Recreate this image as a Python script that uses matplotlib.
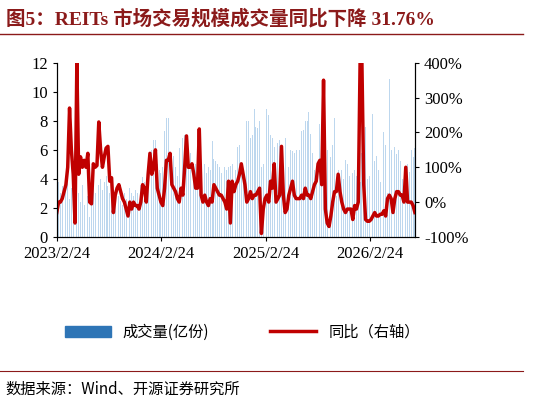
import matplotlib
matplotlib.use("Agg")
import matplotlib.pyplot as plt
import pandas as pd
from matplotlib.patches import Patch
from matplotlib.lines import Line2D

yoy = [-30,0,0,10,30,50,100,270,150,80,-60,400,80,130,100,120,100,140,0,-5,
       110,100,105,230,150,100,130,155,160,60,70,-30,20,40,50,30,10,0,-20,-40,
       0,-20,0,-10,-10,-20,0,50,40,0,80,140,80,100,150,40,20,0,-10,40,
       120,120,140,50,40,30,10,0,40,20,100,190,100,100,110,80,40,40,210,20,
       0,20,0,-10,10,0,50,40,30,20,20,10,0,-20,60,-60,60,30,50,60,
       80,110,80,50,0,10,30,10,20,20,30,40,-90,-20,10,20,0,60,40,110,
       0,10,20,160,20,-30,-20,20,40,60,20,10,10,10,20,10,40,20,20,10,
       30,50,60,110,120,50,350,-20,-60,-70,-40,0,30,30,80,30,0,-20,-30,-20,
       -20,-20,-50,-10,-20,0,400,400,50,-50,-55,-55,-50,-40,-30,-40,-40,-35,-35,-25,
       -40,10,20,10,-30,10,30,30,20,20,0,100,0,0,0,-10,-30]

volume = [2.5,3.8,3.0,3.5,2.8,3.2,3.8,2.6,3.4,4.0,1.8,2.5,3.0,2.4,3.6,2.2,3.0,2.8,1.4,2.6,
          3.4,3.0,2.8,3.6,4.0,3.2,3.8,4.2,3.5,3.0,2.6,2.4,3.0,3.3,2.8,2.5,2.2,3.0,2.6,2.4,
          3.4,3.0,2.8,3.2,3.0,2.6,3.6,4.1,3.8,3.4,5.0,6.8,6.0,6.7,6.7,5.0,4.6,4.4,4.8,7.3,
          8.2,8.2,6.0,5.0,5.6,4.8,4.2,6.1,5.6,6.8,7.0,6.0,5.5,5.8,5.2,4.6,5.0,6.0,5.5,4.6,
          4.8,5.0,4.4,4.8,4.6,6.6,5.4,5.2,5.0,4.8,4.4,4.2,4.8,4.6,4.8,4.9,5.0,4.4,4.6,6.2,
          6.3,4.8,4.6,5.2,8.0,8.0,6.8,7.0,8.8,7.6,7.5,8.0,4.8,5.0,10.3,8.8,8.4,7.0,6.8,6.2,
          6.9,6.5,6.7,5.5,4.8,6.8,5.0,4.8,6.0,5.9,5.8,6.0,6.1,6.0,7.3,7.4,8.0,8.0,8.6,7.1,
          5.8,4.6,4.4,6.3,7.8,7.3,6.6,7.1,6.0,5.0,5.5,6.3,8.2,2.8,4.6,4.6,4.6,4.0,5.3,5.0,
          4.2,4.2,4.4,4.6,4.2,4.0,3.8,5.8,4.8,7.6,4.0,4.2,6.3,8.5,5.2,5.6,4.6,3.8,5.1,7.2,
          6.3,3.0,10.9,6.0,7.2,6.2,5.7,6.0,5.2,4.0,3.5,4.0,5.0,4.5,6.0,5.5,6.1]

n = len(yoy)
volume = volume[:n] + [volume[-1]] * (n - len(volume))
start, end = pd.Timestamp("2023-02-24"), pd.Timestamp("2026-07-30")
dates = pd.date_range(start, end, periods=n)
ticks = pd.to_datetime(["2023-02-24", "2024-02-24", "2025-02-24", "2026-02-24"])
tick_labels = ["2023/2/24", "2024/2/24", "2025/2/24", "2026/2/24"]

serif = ["Liberation Serif", "Noto Sans CJK SC"]
cjk = ["Noto Sans CJK SC", "Liberation Serif"]
plt.rcParams['font.family'] = serif

fig = plt.figure(figsize=(5.51, 4.05), dpi=100)
ax = fig.add_axes([0.103, 0.415, 0.65, 0.43])
ax.bar(dates, volume, width=3.0, color="#bdd7ee", label="成交量(亿份)")
ax.set_ylim(0, 12)
ax.set_yticks(range(0, 13, 2))
ax.set_xlim(start, end)
ax.set_xticks(ticks)
ax.set_xticklabels(tick_labels)
ax2 = ax.twinx()
ax2.plot(dates, yoy, color="#c00000", lw=2.5, label="同比（右轴）")
ax2.set_ylim(-100, 400)
ax2.set_yticks(range(-100, 401, 100))
ax2.set_yticklabels([f"{v}%" for v in range(-100, 401, 100)])
for a in (ax, ax2):
    a.tick_params(labelsize=12, length=3, direction="out")
    a.spines["top"].set_visible(False)
ax.set_zorder(0); ax2.set_zorder(1)

handles = [Patch(color="#2e75b6"), Line2D([], [], color="#c00000", lw=2.5)]
fig.legend(handles, ["成交量(亿份)", "同比（右轴）"], loc="center", bbox_to_anchor=(0.44, 0.18),
           ncol=2, frameon=False, prop={"family": cjk, "size": 11}, columnspacing=4, handlelength=3)

fig.text(0.01, 0.955, "图5：REITs 市场交易规模成交量同比下降 31.76%", fontsize=14, weight="bold",
         color="#8b1a1a", family=serif, va="center")
fig.add_artist(Line2D([0.0, 0.95], [0.915, 0.915], color="#8b1a1a", lw=1))
fig.add_artist(Line2D([0.0, 0.95], [0.085, 0.085], color="#8b1a1a", lw=0.8))
fig.text(0.01, 0.04, "数据来源：Wind、开源证券研究所", fontsize=11, family=cjk, va="center")
fig.savefig("out.png", dpi=100)
